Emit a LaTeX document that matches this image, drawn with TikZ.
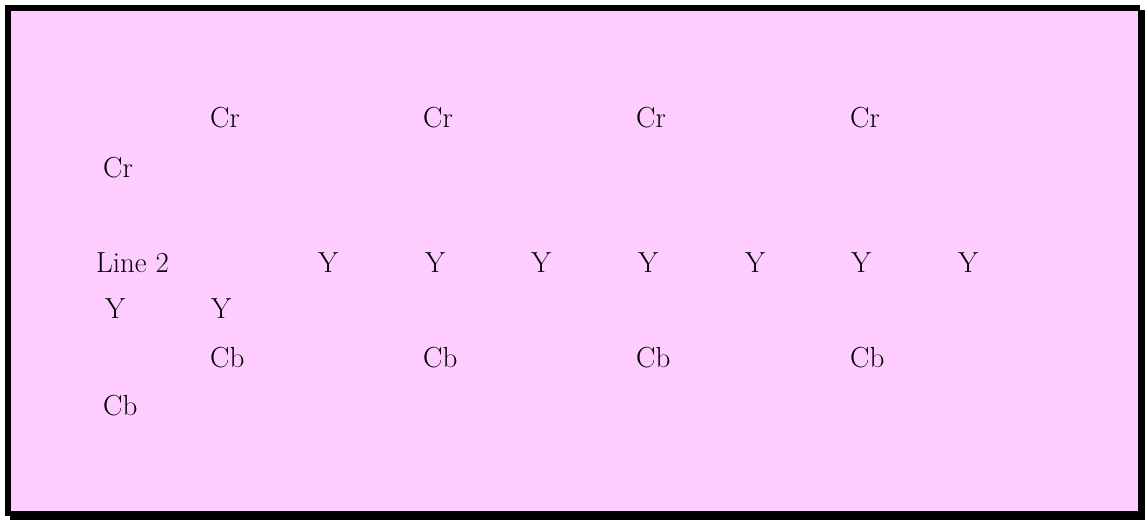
\documentclass[tikz,border=0pt]{standalone}
\usepackage{fontspec}
\definecolor{bgpink}{HTML}{FFCCFF}
\begin{document}
\begin{tikzpicture}[
  x=1pt,
  y=-1pt,
  lbl/.style={anchor=base west,inner sep=0pt,font=\fontsize{29}{34}\selectfont},
  frame/.style={fill=black,draw=none}
]
  \useasboundingbox (0,0) rectangle (1145,520);
  \fill[frame] (10,10) rectangle (1145,520);
  \fill[frame] (5,5) rectangle (1140,516);
  \fill[bgpink] (11,11) rectangle (1138,511);

  \foreach \i/\x in {1/210,2/423,3/636,4/850} {
    \node[lbl] (cr\i) at (\x,127) {Cr};
    \node[lbl] (cb\i) at (\x,367) {Cb};
  }
  \node[lbl] (cr5) at (103,177) {Cr};
  \node[lbl] (cb5) at (103,415) {Cb};

  \node[lbl] (line2) at (96,272) {Line 2};
  \foreach \i/\x in {1/318,2/425,3/531,4/638,5/745,6/851,7/958} {
    \node[lbl] (y\i) at (\x,272) {Y};
  }
  \node[lbl] (y8) at (105,318) {Y};
  \node[lbl] (y9) at (211,318) {Y};
\end{tikzpicture}
\end{document}
